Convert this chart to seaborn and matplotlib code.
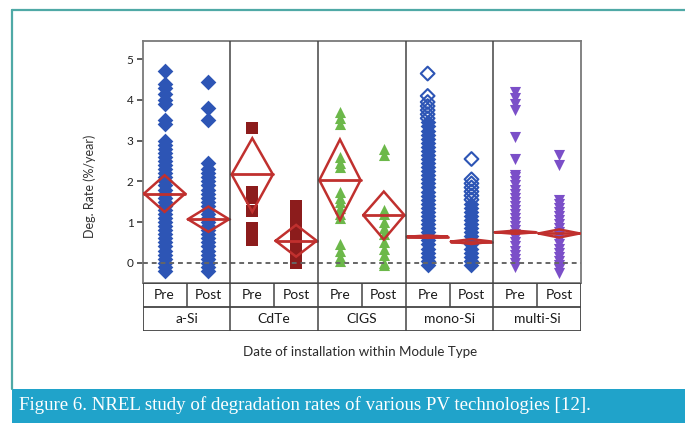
import numpy as np
import pandas as pd
import matplotlib
matplotlib.use('Agg')
import matplotlib.pyplot as plt
import seaborn as sns
from matplotlib.lines import Line2D
from matplotlib.patches import Rectangle

sns.set_theme(style='white')
plt.rcParams['font.family'] = ['Lato', 'DejaVu Sans']

# categories
modules = ['a-Si', 'CdTe', 'CIGS', 'mono-Si', 'multi-Si']
periods = ['Pre', 'Post']
markers = {'a-Si': 'D', 'CdTe': 's', 'CIGS': '^', 'mono-Si': 'D', 'multi-Si': 'v'}
colors = {'a-Si': '#2d55b5', 'CdTe': '#8c1c1c', 'CIGS': '#6cb84a',
          'mono-Si': '#2d55b5', 'multi-Si': '#7b4fc8'}

# degradation rates (%/year); filled markers
a_si_pre = [-0.2, -0.1, 0.0, 0.1, 0.2, 0.3, 0.4, 0.5, 0.6, 0.7, 0.8, 0.9, 1.0, 1.1,
            1.2, 1.3, 1.4, 1.5, 1.6, 1.7, 1.8, 1.9, 2.0, 2.1, 2.2, 2.3, 2.4, 2.5,
            2.6, 2.7, 2.8, 2.9, 3.0, 3.4, 3.5, 3.9, 4.0, 4.15, 4.3, 4.4, 4.72]
a_si_post = [-0.2, -0.1, 0.0, 0.1, 0.2, 0.3, 0.4, 0.5, 0.6, 0.7, 0.8, 0.9, 1.0, 1.1,
             1.2, 1.3, 1.4, 1.5, 1.6, 1.7, 1.8, 1.9, 2.0, 2.1, 2.2, 2.3, 2.45,
             3.5, 3.8, 4.45]
cdte_pre = [0.55, 0.7, 0.85, 1.27, 1.6, 1.75, 3.3]
cdte_post = [0.0, 0.12, 0.25, 0.37, 0.5, 0.62, 0.75, 0.87, 1.0, 1.12, 1.25, 1.4]
cigs_pre = [0.05, 0.15, 0.3, 0.45, 1.1, 1.2, 1.35, 1.5, 1.6, 1.75, 2.35, 2.45, 2.6,
            3.4, 3.55, 3.7]
cigs_post = [-0.05, 0.0, 0.2, 0.35, 0.5, 0.7, 0.85, 1.0, 1.2, 1.3, 2.65, 2.8]
mono_pre = [-0.05, 0.05, 0.15, 0.25, 0.35, 0.45, 0.55, 0.65, 0.75, 0.85, 0.95, 1.05,
            1.15, 1.25, 1.35, 1.45, 1.55, 1.65, 1.75, 1.85, 1.95, 2.05, 2.15, 2.25,
            2.35, 2.45, 2.55, 2.65, 2.75, 2.85, 2.95, 3.05, 3.15, 3.25, 3.35, 3.45]
mono_post = [-0.05, 0.05, 0.15, 0.25, 0.35, 0.45, 0.55, 0.65, 0.75, 0.85, 0.95, 1.05,
             1.15, 1.25, 1.35, 1.45]
multi_pre = [-0.1, 0.0, 0.1, 0.2, 0.3, 0.4, 0.5, 0.6, 0.7, 0.8, 0.9, 1.0, 1.1, 1.2,
             1.3, 1.4, 1.5, 1.6, 1.7, 1.8, 1.9, 2.0, 2.1, 2.15, 2.55, 3.1, 3.75,
             3.9, 4.05, 4.2]
multi_post = [-0.25, -0.15, -0.05, 0.05, 0.15, 0.25, 0.35, 0.45, 0.55, 0.65, 0.75,
              0.85, 0.95, 1.05, 1.15, 1.25, 1.35, 1.45, 1.55, 2.4, 2.65]
# open (hollow) markers at the top of the mono-Si columns
mono_pre_open = [3.55, 3.65, 3.75, 3.85, 3.95, 4.1, 4.65]
mono_post_open = [1.55, 1.65, 1.75, 1.85, 1.95, 2.05, 2.55]

# means diamonds: group mean and confidence limits
means = [1.70, 1.07, 2.17, 0.54, 2.03, 1.17, 0.64, 0.52, 0.75, 0.72]
ci_lo = [1.25, 0.76, 1.25, 0.15, 1.05, 0.57, 0.61, 0.46, 0.71, 0.62]
ci_hi = [2.15, 1.38, 3.06, 0.93, 3.03, 1.75, 0.67, 0.58, 0.79, 0.82]

filled = {('a-Si', 'Pre'): a_si_pre, ('a-Si', 'Post'): a_si_post,
          ('CdTe', 'Pre'): cdte_pre, ('CdTe', 'Post'): cdte_post,
          ('CIGS', 'Pre'): cigs_pre, ('CIGS', 'Post'): cigs_post,
          ('mono-Si', 'Pre'): mono_pre, ('mono-Si', 'Post'): mono_post,
          ('multi-Si', 'Pre'): multi_pre, ('multi-Si', 'Post'): multi_post}
hollow = {('mono-Si', 'Pre'): mono_pre_open, ('mono-Si', 'Post'): mono_post_open}

group_order = [f'{m} {p}' for m in modules for p in periods]


def to_frame(d):
    rows = [(m, f'{m} {p}', v) for (m, p), vals in d.items() for v in vals]
    return pd.DataFrame(rows, columns=['module', 'group', 'rate'])


df = to_frame(filled)
df_open = to_frame(hollow)

fig = plt.figure(figsize=(6.85, 4.23), dpi=100)
fig.patch.set_facecolor('white')

ax = fig.add_axes([0.2083, 0.3317, 0.640, 0.5714])
for m in modules:
    sub = df[df['module'] == m]
    sns.stripplot(data=sub, x='group', y='rate', order=group_order, jitter=False,
                  marker=markers[m], color=colors[m], size=8, linewidth=0, ax=ax)
for m in df_open['module'].unique():
    sub = df_open[df_open['module'] == m]
    sns.stripplot(data=sub, x='group', y='rate', order=group_order, jitter=False,
                  marker=markers[m], color=colors[m], facecolor='none',
                  edgecolor=colors[m], linewidth=1.5, size=7, ax=ax)

# means diamonds
hw = 0.47
for i, (mu, lo, hi) in enumerate(zip(means, ci_lo, ci_hi)):
    ax.plot([i - hw, i, i + hw, i, i - hw], [mu, hi, mu, lo, mu],
            color='#c0302e', lw=1.8, zorder=5, solid_joinstyle='miter')
    ax.plot([i - hw, i + hw], [mu, mu], color='#c0302e', lw=2.0, zorder=5)

ax.axhline(0, color='#666666', lw=1.4, ls=(0, (2.5, 2)), zorder=6)
for k in range(1, len(modules)):
    ax.axvline(2 * k - 0.5, color='#444444', lw=1.1, zorder=6)

ax.set_xlim(-0.5, len(group_order) - 0.5)
ax.set_ylim(-0.49, 5.45)
ax.set_yticks(range(0, 6))
ax.set_xticks([])
ax.set_xlabel('')
ax.tick_params(axis='y', direction='out', length=4.5, width=1.1, color='#333333',
               labelsize=8.5, pad=2, left=True, labelcolor='#222222')
for s in ax.spines.values():
    s.set_color('#7a7a7a')
    s.set_linewidth(1.3)
ax.set_ylabel('Deg. Rate (%/year)', fontsize=9, color='#333333')
ax.yaxis.set_label_coords(-0.107, 0.397)

# Pre/Post and module type table under the axis
tb = fig.add_axes([0.2083, 0.2175, 0.640, 0.1142])
tb.set_xlim(-0.5, len(group_order) - 0.5)
tb.set_ylim(0, 2)
tb.axis('off')
lc = '#444444'
tb.hlines([0, 1, 2], -0.5, len(group_order) - 0.5, color=lc, lw=1.3)
tb.vlines([-0.5, len(group_order) - 0.5], 0, 2, color=lc, lw=1.3)
tb.vlines([i + 0.5 for i in range(len(group_order) - 1)], 1, 2, color=lc, lw=1.1)
tb.vlines([2 * k - 0.5 for k in range(1, len(modules))], 0, 1, color=lc, lw=1.1)
for i, g in enumerate(group_order):
    tb.text(i, 1.5, g.split(' ')[1], ha='center', va='center', fontsize=10,
            color='#1a1a1a')
for k, m in enumerate(modules):
    tb.text(2 * k + 0.5, 0.5, m, ha='center', va='center', fontsize=10,
            color='#1a1a1a')

fig.text(0.5255, 0.1678, 'Date of installation within Module Type', ha='center',
         va='center', fontsize=9.6, color='#2a2a2a')

# page frame and caption band
frame_c = '#4fa9a6'
fig.add_artist(Line2D([0.0175, 1.0], [0.9764, 0.9764], color=frame_c, lw=1.6))
fig.add_artist(Line2D([0.0175, 0.0175], [0.9764, 0.08], color=frame_c, lw=1.6))
fig.add_artist(Rectangle((0.0175, 0), 1.0, 0.0804, transform=fig.transFigure,
                         facecolor='#20a3ca', edgecolor='none'))
fig.text(0.0277, 0.0426,
         'Figure 6. NREL study of degradation rates of various PV technologies [12].',
         ha='left', va='center', color='white', fontsize=13.6,
         family=['Liberation Serif', 'DejaVu Serif'])

fig.savefig('out.png', dpi=100)
plt.close()
